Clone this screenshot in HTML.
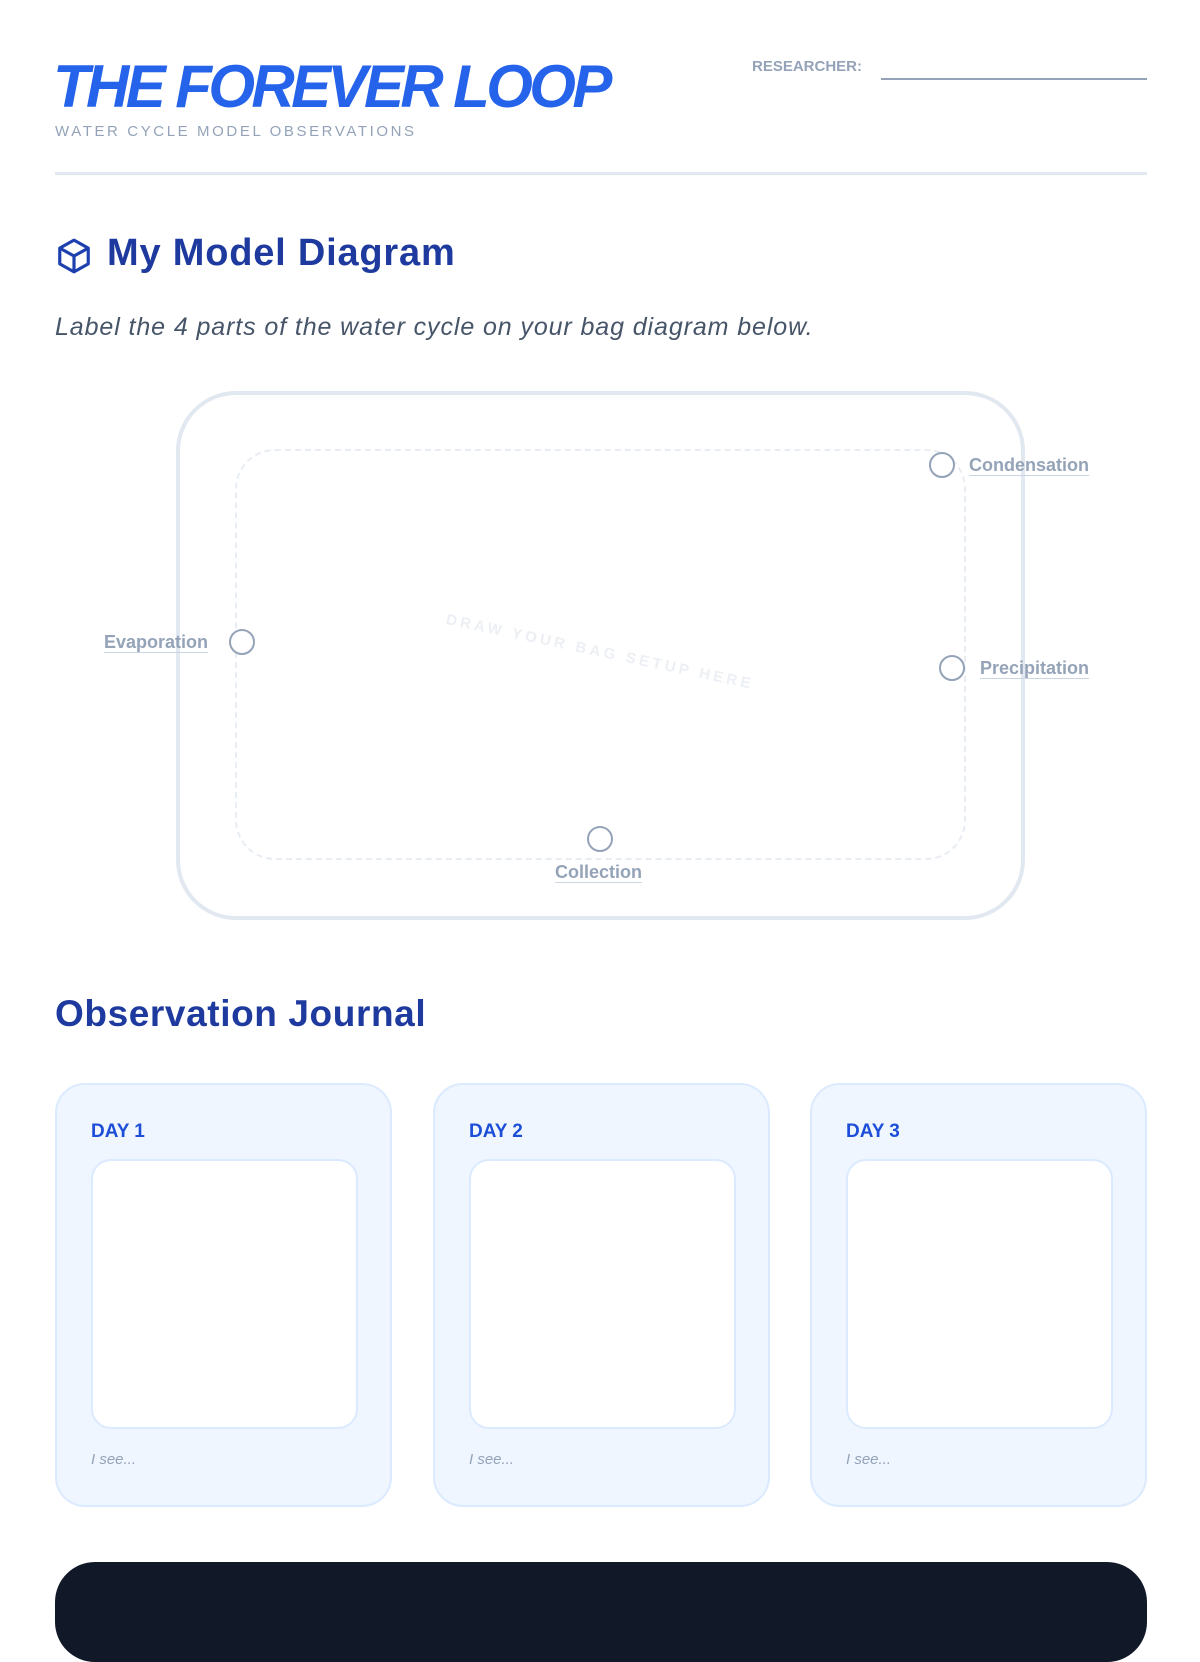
<!DOCTYPE html>
<html><head><meta charset="utf-8"><style>
*{margin:0;padding:0;box-sizing:border-box}
body{width:1200px;height:1600px;background:#fff;font-family:"Liberation Sans",sans-serif;position:relative;overflow:hidden}
.a{position:absolute}
.lbl{position:absolute;font-size:18px;font-weight:bold;color:#94a3b8;border-bottom:1px solid #cbd5e1;line-height:20px}
.c{position:absolute;width:26px;height:26px;border:2px solid #94a3b8;border-radius:50%;background:#fff}
.card{position:absolute;top:1083px;width:337px;height:424px;background:#eff6ff;border:2px solid #dbeafe;border-radius:30px}
.card .d{position:absolute;left:34px;top:36px;font-size:19px;font-weight:bold;color:#1d4ed8}
.card .w{position:absolute;left:34px;top:74px;width:267px;height:270px;background:#fff;border:2px solid #dbeafe;border-radius:20px}
.card .s{position:absolute;left:34px;top:366px;font-size:15px;font-style:italic;color:#94a3b8}
</style></head><body>
<div class="a" style="left:53px;top:52px;font-size:60px;font-weight:bold;font-style:italic;color:#2563eb;letter-spacing:-3.6px;line-height:70px">THE FOREVER LOOP</div>
<div class="a" style="left:55px;top:123px;font-size:15px;color:#94a3b8;letter-spacing:2.6px">WATER CYCLE MODEL OBSERVATIONS</div>
<div class="a" style="left:752px;top:58px;font-size:15px;font-weight:bold;color:#94a3b8">RESEARCHER:</div>
<div class="a" style="left:881px;top:78px;width:266px;height:2px;background:#94a3b8"></div>
<div class="a" style="left:55px;top:172px;width:1092px;height:3px;background:#e2e8f0"></div>
<svg class="a" style="left:55px;top:236px" width="38" height="40" viewBox="0 0 24 24" fill="none" stroke="#1e40af" stroke-width="2" stroke-linejoin="round"><path d="M12 2 21 7v10l-9 5-9-5V7z"/><path d="M3 7l9 5 9-5M12 12v10"/></svg>
<div class="a" style="left:107px;top:232px;font-size:38px;font-weight:bold;color:#1e3a9f;letter-spacing:0.8px">My Model Diagram</div>
<div class="a" style="left:55px;top:313px;font-size:25px;font-style:italic;color:#475569;letter-spacing:0.9px">Label the 4 parts of the water cycle on your bag diagram below.</div>
<div class="a" style="left:176px;top:391px;width:849px;height:529px;border:4px solid #e2e8f0;border-radius:60px"></div>
<div class="a" style="left:235px;top:449px;width:731px;height:411px;border:2px dashed #e8edf3;border-radius:40px"></div>
<div class="a" style="left:600px;top:652px;transform:translate(-50%,-50%) rotate(12deg);font-size:15px;font-weight:bold;letter-spacing:3.5px;color:#eceff4;white-space:nowrap">DRAW YOUR BAG SETUP HERE</div>
<div class="c" style="left:929px;top:452px"></div><div class="lbl" style="left:969px;top:455px">Condensation</div>
<div class="c" style="left:229px;top:629px"></div><div class="lbl" style="left:104px;top:632px">Evaporation</div>
<div class="c" style="left:939px;top:655px"></div><div class="lbl" style="left:980px;top:658px">Precipitation</div>
<div class="c" style="left:587px;top:826px"></div><div class="lbl" style="left:555px;top:862px">Collection</div>
<div class="a" style="left:55px;top:993px;font-size:37px;font-weight:bold;color:#1e3a9f;letter-spacing:0.6px">Observation Journal</div>
<div class="card" style="left:55px"><div class="d">DAY 1</div><div class="w"></div><div class="s">I see...</div></div>
<div class="card" style="left:433px"><div class="d">DAY 2</div><div class="w"></div><div class="s">I see...</div></div>
<div class="card" style="left:810px"><div class="d">DAY 3</div><div class="w"></div><div class="s">I see...</div></div>
<div class="a" style="left:55px;top:1562px;width:1092px;height:100px;background:#111827;border-radius:40px"></div>
</body></html>
